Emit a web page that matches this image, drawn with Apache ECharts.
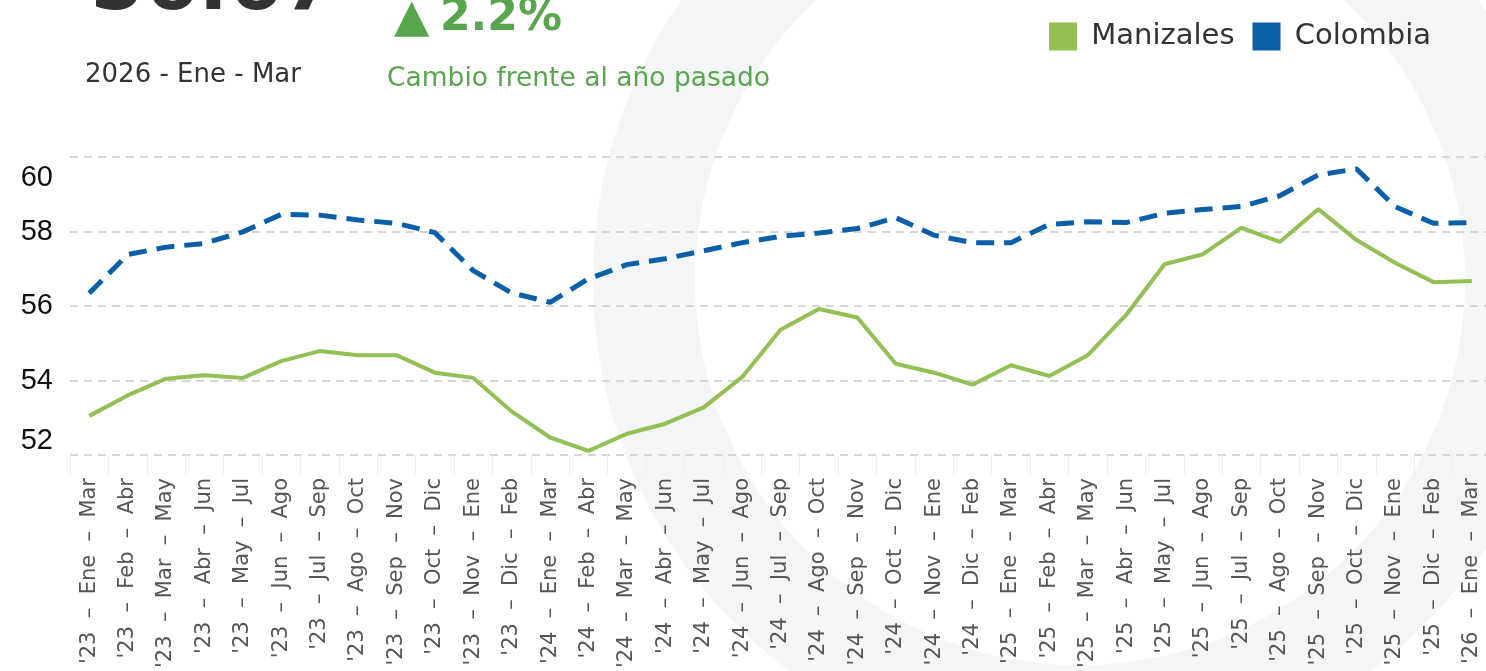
<!DOCTYPE html>
<html>
<head>
<meta charset="utf-8">
<script src="https://cdn.jsdelivr.net/npm/echarts@6/dist/echarts.min.js"></script>
<style>
    html, body { margin: 0; padding: 0; background: #fff; }
    #main { width: 1486px; height: 671px; }
</style>
</head>
<body>
<div id="main"></div>
<script>
// periodos trimestrales moviles
var categorias = [
    "'23 – Ene – Mar", "'23 – Feb – Abr", "'23 – Mar – May", "'23 – Abr – Jun", "'23 – May – Jul",
    "'23 – Jun – Ago", "'23 – Jul – Sep", "'23 – Ago – Oct", "'23 – Sep – Nov", "'23 – Oct – Dic",
    "'23 – Nov – Ene", "'23 – Dic – Feb", "'24 – Ene – Mar", "'24 – Feb – Abr", "'24 – Mar – May",
    "'24 – Abr – Jun", "'24 – May – Jul", "'24 – Jun – Ago", "'24 – Jul – Sep", "'24 – Ago – Oct",
    "'24 – Sep – Nov", "'24 – Oct – Dic", "'24 – Nov – Ene", "'24 – Dic – Feb", "'25 – Ene – Mar",
    "'25 – Feb – Abr", "'25 – Mar – May", "'25 – Abr – Jun", "'25 – May – Jul", "'25 – Jun – Ago",
    "'25 – Jul – Sep", "'25 – Ago – Oct", "'25 – Sep – Nov", "'25 – Oct – Dic", "'25 – Nov – Ene",
    "'25 – Dic – Feb", "'26 – Ene – Mar"
];

var manizales = [
    53.05, 53.6, 54.05, 54.14, 54.07, 54.52, 54.79, 54.68, 54.68, 54.21,
    54.07, 53.17, 52.47, 52.11, 52.57, 52.84, 53.28, 54.09, 55.36, 55.92,
    55.69, 54.45, 54.21, 53.89, 54.41, 54.12, 54.68, 55.76, 57.12, 57.39,
    58.10, 57.72, 58.60, 57.77, 57.16, 56.64, 56.67
];

var colombia = [
    56.34, 57.38, 57.58, 57.68, 57.99, 58.46, 58.44, 58.31, 58.22, 57.97,
    56.95, 56.35, 56.10, 56.73, 57.11, 57.27, 57.48, 57.70, 57.87, 57.96,
    58.08, 58.37, 57.90, 57.70, 57.70, 58.19, 58.26, 58.24, 58.49, 58.59,
    58.67, 58.96, 59.52, 59.68, 58.67, 58.22, 58.24
];

var valorActual = '56.67';
var cambio = '2.2%';
var periodo = '2026 - Ene - Mar';

var verde = '#93bf55';
var azul = '#0a5fa8';
var verdeTexto = '#58a54e';

var myChart = echarts.init(document.getElementById('main'));

var option = {
    animation: false,
    backgroundColor: '#fff',
    graphic: [
        {
            type: 'ring',
            silent: true,
            z: -100,
            shape: { cx: 1080, cy: 280, r: 487, r0: 385 },
            style: { fill: '#f4f5f7' }
        },
        {
            type: 'text',
            left: 90,
            top: -50,
            style: {
                text: valorActual,
                fill: '#333',
                font: 'bold 78px "DejaVu Sans"'
            }
        },
        {
            type: 'text',
            left: 394,
            top: -4,
            style: {
                text: '\u25B2',
                fill: verdeTexto,
                font: '46px "DejaVu Sans"'
            }
        },
        {
            type: 'text',
            left: 440,
            top: -3,
            style: {
                text: cambio,
                fill: verdeTexto,
                font: 'bold 44px "DejaVu Sans"'
            }
        },
        {
            type: 'text',
            left: 85,
            top: 62,
            style: {
                text: periodo,
                fill: '#333',
                font: '26px "DejaVu Sans"'
            }
        },
        {
            type: 'text',
            left: 387,
            top: 66,
            style: {
                text: 'Cambio frente al año pasado',
                fill: verdeTexto,
                font: '26.5px "DejaVu Sans"'
            }
        }
    ],
    legend: {
        data: ['Manizales', 'Colombia'],
        right: 50,
        top: 17,
        icon: 'rect',
        itemWidth: 28,
        itemHeight: 28,
        itemGap: 18,
        formatter: ' {name}',
        textStyle: {
            color: '#333',
            fontSize: 29,
            fontFamily: 'DejaVu Sans'
        }
    },
    grid: {
        left: 70,
        right: -5,
        top: 157,
        bottom: 216,
        outerBoundsMode: 'none',
        containLabel: false
    },
    xAxis: {
        type: 'category',
        data: categorias,
        boundaryGap: true,
        axisLine: { show: false },
        axisTick: {
            show: true,
            length: 20,
            lineStyle: { color: '#eeeeee' }
        },
        axisLabel: {
            rotate: 90,
            interval: 0,
            margin: 23,
            color: '#555',
            fontSize: 21,
            fontFamily: 'DejaVu Sans',
            // el original deja mas aire alrededor de los guiones
            formatter: function (v) {
                return v.replace(/ /g, '  ');
            }
        }
    },
    yAxis: {
        type: 'value',
        min: 52,
        max: 60,
        interval: 2,
        axisLine: { show: false },
        axisTick: { show: false },
        axisLabel: {
            margin: 17,
            padding: [6, 0, 0, 0],
            color: '#111',
            fontSize: 29,
            fontFamily: 'Liberation Sans',
            verticalAlignMinLabel: 'bottom',
            verticalAlignMaxLabel: 'top'
        },
        splitLine: {
            lineStyle: {
                color: '#d6d6d6',
                width: 2,
                type: [8, 6]
            }
        }
    },
    series: [
        {
            name: 'Manizales',
            type: 'line',
            data: manizales,
            symbol: 'none',
            itemStyle: { color: verde },
            lineStyle: { color: verde, width: 4 }
        },
        {
            name: 'Colombia',
            type: 'line',
            data: colombia,
            symbol: 'none',
            itemStyle: { color: azul },
            lineStyle: { color: azul, width: 5, type: [18, 10] }
        }
    ]
};
myChart.setOption(option);
</script>
</body>
</html>
